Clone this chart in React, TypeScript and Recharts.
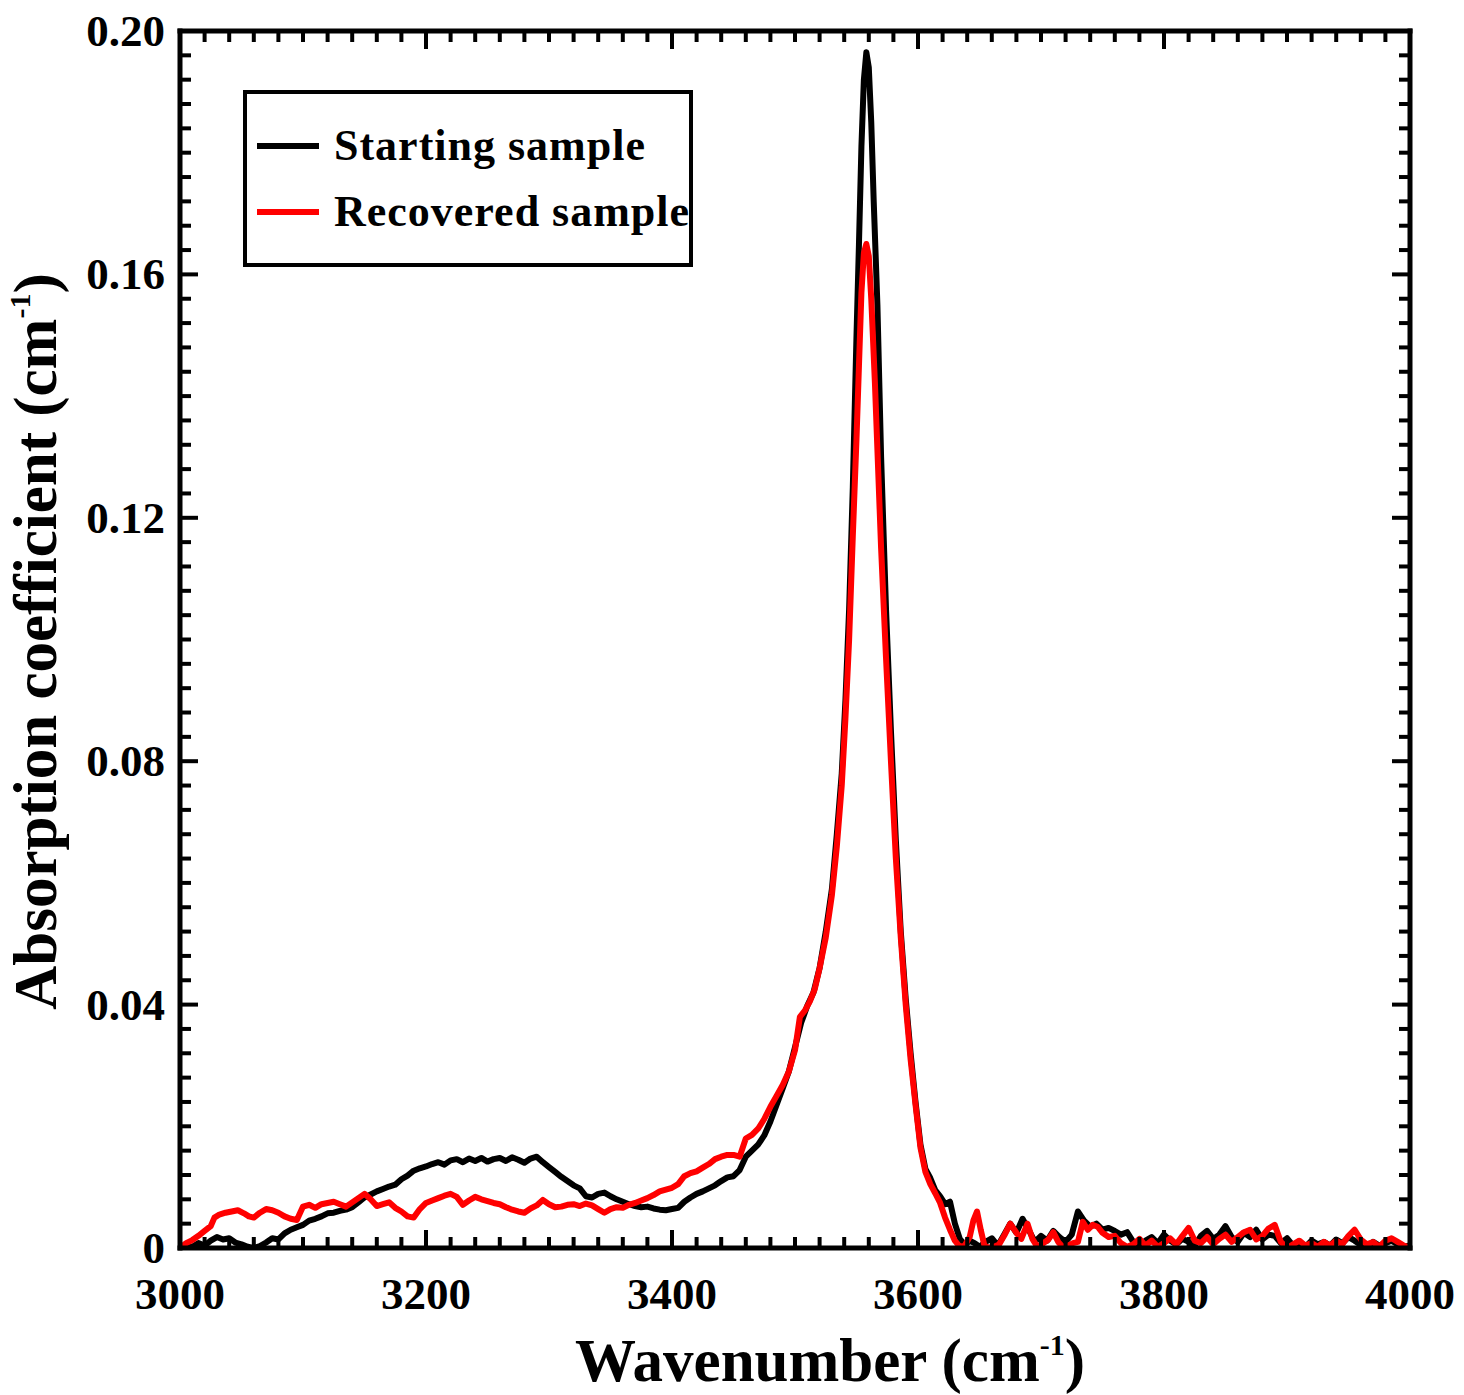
import { LineChart, Line, XAxis, YAxis, Legend } from "recharts";

const FONT = '"Liberation Serif", "Times New Roman", Times, serif';

// [wavenumber (cm-1), absorption coefficient (cm-1)]
const startingSample: [number, number][] = [
  [3000, 0], [3005, 0.0003], [3010, 0.0002], [3015, 0.0008], [3020, 0.0004], [3025, 0.0012],
  [3030, 0.0018], [3035, 0.0014], [3040, 0.0016], [3045, 0.0009], [3050, 0.0006], [3055, 0.0002],
  [3060, 0], [3065, 0.0003], [3070, 0.0009], [3075, 0.0016], [3080, 0.0014], [3085, 0.0024],
  [3090, 0.003], [3095, 0.0034], [3100, 0.0038], [3105, 0.0045], [3110, 0.0048], [3115, 0.0052],
  [3120, 0.0057], [3125, 0.0058], [3130, 0.0061], [3135, 0.0063], [3140, 0.0067], [3145, 0.0075],
  [3150, 0.0083], [3155, 0.0088], [3160, 0.0093], [3165, 0.0097], [3170, 0.0101], [3175, 0.0104],
  [3180, 0.0113], [3185, 0.0119], [3190, 0.0127], [3195, 0.0131], [3200, 0.0134], [3205, 0.0138],
  [3210, 0.0141], [3215, 0.0137], [3220, 0.0144], [3225, 0.0146], [3230, 0.0141], [3235, 0.0147],
  [3240, 0.0143], [3245, 0.0148], [3250, 0.0142], [3255, 0.0146], [3260, 0.0148], [3265, 0.0143],
  [3270, 0.0149], [3275, 0.0145], [3280, 0.014], [3285, 0.0147], [3290, 0.015], [3295, 0.0141],
  [3300, 0.0133], [3305, 0.0125], [3310, 0.0117], [3315, 0.011], [3320, 0.0103], [3325, 0.0098],
  [3330, 0.0085], [3335, 0.0083], [3340, 0.0089], [3345, 0.0091], [3350, 0.0085], [3355, 0.008],
  [3360, 0.0076], [3365, 0.0072], [3370, 0.0069], [3375, 0.0067], [3380, 0.0068], [3385, 0.0065],
  [3390, 0.0063], [3395, 0.0062], [3400, 0.0064], [3405, 0.0066], [3410, 0.0076], [3415, 0.0083],
  [3420, 0.0089], [3425, 0.0093], [3430, 0.0098], [3435, 0.0103], [3440, 0.011], [3445, 0.0116],
  [3450, 0.0118], [3455, 0.0128], [3460, 0.015], [3465, 0.016], [3470, 0.017], [3475, 0.0185],
  [3480, 0.0208], [3485, 0.0235], [3490, 0.0262], [3495, 0.029], [3500, 0.033], [3505, 0.037],
  [3510, 0.0398], [3515, 0.042], [3520, 0.046], [3525, 0.052], [3530, 0.059], [3534, 0.068],
  [3538, 0.078], [3541, 0.09], [3544, 0.105], [3547, 0.125], [3550, 0.15], [3552, 0.165],
  [3554, 0.181], [3556, 0.192], [3558, 0.1965], [3560, 0.194], [3562, 0.185], [3564, 0.172],
  [3567, 0.155], [3570, 0.13], [3574, 0.105], [3578, 0.085], [3582, 0.067], [3586, 0.052],
  [3590, 0.041], [3594, 0.032], [3598, 0.024], [3602, 0.017], [3606, 0.013], [3610, 0.0115],
  [3614, 0.0095], [3618, 0.0085], [3622, 0.0072], [3626, 0.0076], [3630, 0.004], [3634, 0.0015],
  [3638, 0.0005], [3642, 0.0012], [3646, 0.0008], [3650, 0.0002], [3655, 0.001], [3660, 0.0016],
  [3665, 0.0004], [3670, 0.0022], [3675, 0.004], [3680, 0.0025], [3685, 0.0048], [3690, 0.003],
  [3695, 0.001], [3700, 0.002], [3705, 0.0012], [3710, 0.0028], [3715, 0.0018], [3720, 0.001],
  [3725, 0.0022], [3730, 0.006], [3735, 0.0045], [3740, 0.0035], [3745, 0.004], [3750, 0.003],
  [3755, 0.0033], [3760, 0.0028], [3765, 0.0022], [3770, 0.0026], [3775, 0.001], [3780, 0.0002],
  [3785, 0.0012], [3790, 0.0018], [3795, 0.0008], [3800, 0.0022], [3805, 0.0012], [3810, 0.0006],
  [3815, 0.0015], [3820, 0.001], [3825, 0.0004], [3830, 0.002], [3835, 0.0028], [3840, 0.0015],
  [3845, 0.0022], [3850, 0.0036], [3855, 0.0018], [3860, 0.001], [3865, 0.0025], [3870, 0.0018],
  [3875, 0.003], [3880, 0.0014], [3885, 0.0022], [3890, 0.002], [3895, 0.0008], [3900, 0.0016],
  [3905, 0.0004], [3910, 0.0008], [3915, 0.0002], [3920, 0.0012], [3925, 0.0006], [3930, 0.001],
  [3935, 0.0004], [3940, 0.0014], [3945, 0.0008], [3950, 0.0018], [3955, 0.0012], [3960, 0.0005],
  [3965, 0.0001], [3970, 0.001], [3975, 0.0004], [3980, 0.0008], [3985, 0.0012], [3990, 0.0006],
  [3995, 0.0002], [4000, 0.0004],
];

const recoveredSample: [number, number][] = [
  [3000, 0], [3005, 0.0008], [3010, 0.0013], [3015, 0.002], [3020, 0.0028], [3025, 0.0036],
  [3028, 0.005], [3032, 0.0055], [3037, 0.0058], [3042, 0.006], [3047, 0.0062], [3052, 0.0057],
  [3056, 0.0052], [3060, 0.005], [3065, 0.0058], [3070, 0.0064], [3075, 0.0062], [3080, 0.0058],
  [3085, 0.0052], [3090, 0.0048], [3095, 0.0046], [3100, 0.0068], [3105, 0.0071], [3110, 0.0066],
  [3115, 0.0072], [3120, 0.0074], [3125, 0.0076], [3130, 0.0072], [3135, 0.0068], [3140, 0.0075],
  [3145, 0.0082], [3150, 0.0089], [3155, 0.008], [3160, 0.0069], [3165, 0.0072], [3170, 0.0075],
  [3175, 0.0066], [3180, 0.006], [3185, 0.0052], [3190, 0.005], [3195, 0.0064], [3200, 0.0074],
  [3205, 0.0078], [3210, 0.0082], [3215, 0.0086], [3220, 0.0089], [3225, 0.0084], [3230, 0.0071],
  [3235, 0.0078], [3240, 0.0084], [3245, 0.008], [3250, 0.0077], [3255, 0.0074], [3260, 0.0072],
  [3265, 0.0067], [3270, 0.0063], [3275, 0.006], [3280, 0.0058], [3285, 0.0065], [3290, 0.007],
  [3295, 0.0079], [3300, 0.0072], [3305, 0.0067], [3310, 0.0068], [3315, 0.0071], [3320, 0.0072],
  [3325, 0.0069], [3330, 0.0073], [3335, 0.007], [3340, 0.0064], [3345, 0.0058], [3350, 0.0064],
  [3355, 0.0067], [3360, 0.0066], [3365, 0.0071], [3370, 0.0074], [3375, 0.0078], [3380, 0.0082],
  [3385, 0.0087], [3390, 0.0093], [3395, 0.0096], [3400, 0.0099], [3405, 0.0105], [3410, 0.0118],
  [3415, 0.0123], [3420, 0.0126], [3425, 0.0132], [3430, 0.0138], [3435, 0.0146], [3440, 0.015],
  [3445, 0.0153], [3450, 0.0153], [3455, 0.015], [3460, 0.018], [3465, 0.0186], [3470, 0.0196],
  [3475, 0.0212], [3480, 0.0232], [3485, 0.025], [3490, 0.0268], [3495, 0.029], [3500, 0.0325],
  [3504, 0.038], [3508, 0.039], [3512, 0.0405], [3516, 0.0425], [3520, 0.046], [3525, 0.051],
  [3530, 0.058], [3534, 0.066], [3538, 0.076], [3541, 0.087], [3544, 0.1], [3547, 0.117],
  [3550, 0.133], [3552, 0.145], [3554, 0.157], [3556, 0.1635], [3558, 0.165], [3560, 0.163],
  [3562, 0.156], [3565, 0.142], [3570, 0.115], [3574, 0.097], [3578, 0.08], [3582, 0.064],
  [3586, 0.051], [3590, 0.04], [3594, 0.031], [3598, 0.0235], [3602, 0.0165], [3606, 0.0125],
  [3610, 0.0105], [3614, 0.009], [3618, 0.0074], [3622, 0.005], [3626, 0.003], [3630, 0.0012],
  [3634, 0.0002], [3638, 0.0004], [3642, 0.0018], [3645, 0.0045], [3648, 0.006], [3651, 0.003],
  [3654, 0.0004], [3658, 0], [3662, 0.0002], [3666, 0.0006], [3670, 0.002], [3675, 0.004],
  [3680, 0.0025], [3684, 0.0015], [3689, 0.004], [3693, 0.0015], [3697, 0.0002], [3702, 0.0008],
  [3706, 0.0014], [3710, 0.0026], [3714, 0.001], [3718, 0.0001], [3722, 0.0004], [3726, 0.0008],
  [3730, 0.001], [3734, 0.0043], [3738, 0.003], [3742, 0.0038], [3746, 0.0035], [3750, 0.0025],
  [3755, 0.0018], [3760, 0.002], [3765, 0.0008], [3770, 0.0002], [3775, 0.0006], [3780, 0.0015],
  [3785, 0.0004], [3790, 0.0012], [3795, 0.0002], [3800, 0.0008], [3805, 0.0016], [3810, 0.0006],
  [3815, 0.002], [3820, 0.0033], [3825, 0.0012], [3830, 0.0008], [3835, 0.0018], [3840, 0.0006],
  [3845, 0.0015], [3850, 0.0022], [3855, 0.001], [3860, 0.0018], [3865, 0.0026], [3870, 0.003],
  [3875, 0.0014], [3880, 0.002], [3885, 0.0032], [3890, 0.0038], [3895, 0.001], [3900, 0],
  [3905, 0.0006], [3910, 0.0012], [3915, 0.0004], [3920, 0.0008], [3925, 0.0002], [3930, 0.001],
  [3935, 0.0004], [3940, 0.0012], [3945, 0.0006], [3950, 0.002], [3955, 0.003], [3960, 0.0014],
  [3965, 0.0006], [3970, 0.001], [3975, 0.0002], [3980, 0.0012], [3985, 0.0016], [3990, 0.001],
  [3995, 0.0004], [4000, 0],
];

const seriesNames = ["Starting sample", "Recovered sample"];
const seriesColors = ["#000000", "#ff0000"];

const xMajorTicks = [3000, 3200, 3400, 3600, 3800, 4000];
const xMinorStep = 20;
const yMajorTicks = [0, 0.04, 0.08, 0.12, 0.16, 0.2];
const yMinorStep = 0.004;

const xTicks: number[] = [];
for (let v = xMajorTicks[0]; v <= xMajorTicks[xMajorTicks.length - 1]; v += xMinorStep) xTicks.push(v);
const yTicks: number[] = [];
for (let i = 0; i <= Math.round(0.2 / yMinorStep); i++) yTicks.push(+(i * yMinorStep).toFixed(3));

const toRows = (pts: [number, number][]) => pts.map(([wn, abs]) => ({ wn, abs }));

const MAJOR = 18;
const MINOR = 11;
const TICK_FS = 45;

const isXMajor = (v: number) => xMajorTicks.includes(Number(v));
const isYMajor = (v: number) => yMajorTicks.some((t) => Math.abs(t - Number(v)) < 1e-6);

function BottomTick(props: any) {
  const x = Number(props.x);
  const y = Number(props.y);
  const v = Number(props.payload.value);
  const major = isXMajor(v);
  return (
    <g>
      <path d={`M${x},${y}V${y - (major ? MAJOR : MINOR)}`} stroke="#000" strokeWidth={4} fill="none" />
      {major && (
        <text x={x} y={y + 61} textAnchor="middle" fontFamily={FONT} fontWeight="bold" fontSize={TICK_FS} fill="#000">
          {v}
        </text>
      )}
    </g>
  );
}

function TopTick(props: any) {
  const x = Number(props.x);
  const y = Number(props.y);
  const major = isXMajor(props.payload.value);
  return <path d={`M${x},${y}V${y + (major ? MAJOR : MINOR)}`} stroke="#000" strokeWidth={4} fill="none" />;
}

function LeftTick(props: any) {
  const x = Number(props.x);
  const y = Number(props.y);
  const v = Number(props.payload.value);
  const major = isYMajor(v);
  return (
    <g>
      <path d={`M${x},${y}H${x + (major ? MAJOR : MINOR)}`} stroke="#000" strokeWidth={4} fill="none" />
      {major && (
        <text x={x - 15} y={y + 15} textAnchor="end" fontFamily={FONT} fontWeight="bold" fontSize={TICK_FS} fill="#000">
          {v === 0 ? "0" : v.toFixed(2)}
        </text>
      )}
    </g>
  );
}

function RightTick(props: any) {
  const x = Number(props.x);
  const y = Number(props.y);
  const major = isYMajor(props.payload.value);
  return <path d={`M${x},${y}H${x - (major ? MAJOR : MINOR)}`} stroke="#000" strokeWidth={4} fill="none" />;
}

function XTitle({ viewBox }: any) {
  const cx = viewBox.x + viewBox.width / 2 + 35;
  return (
    <text x={cx} y={viewBox.y + 133} textAnchor="middle" fontFamily={FONT} fontWeight="bold" fontSize={61} fill="#000">
      Wavenumber (cm
      <tspan fontSize={30} dy={-26}>-1</tspan>
      <tspan dy={26}>)</tspan>
    </text>
  );
}

function YTitle({ viewBox }: any) {
  const x = viewBox.x + 56;
  const y = viewBox.y + viewBox.height / 2 + 2;
  return (
    <text x={x} y={y} transform={`rotate(-90, ${x}, ${y})`} textAnchor="middle" fontFamily={FONT} fontWeight="bold" fontSize={61} fill="#000">
      Absorption coefficient (cm
      <tspan fontSize={30} dy={-26}>-1</tspan>
      <tspan dy={26}>)</tspan>
    </text>
  );
}

function LegendBox() {
  return (
    <svg width={450} height={177}>
      <rect x={2} y={2} width={446} height={173} fill="#fff" stroke="#000" strokeWidth={4} />
      {seriesNames.map((name, i) => (
        <g key={name}>
          <line x1={14} x2={76} y1={56 + i * 66} y2={56 + i * 66} stroke={seriesColors[i]} strokeWidth={6} />
          <text x={91} y={70 + i * 66} fontFamily={FONT} fontWeight="bold" fontSize={44} letterSpacing={1} fill="#000">
            {name}
          </text>
        </g>
      ))}
    </svg>
  );
}

const axisLine = { stroke: "#000", strokeWidth: 5, strokeLinecap: "square" as const };

export default function App() {
  return (
    <div style={{ position: "absolute", left: 0, top: 0, background: "#fff" }}>
      <LineChart width={1464} height={1395} margin={{ top: 30, right: 53, bottom: 0, left: 0 }}>
        <XAxis
          xAxisId="bottom"
          dataKey="wn"
          type="number"
          domain={[3000, 4000]}
          ticks={xTicks}
          interval={0}
          height={147}
          tickSize={0}
          tickMargin={0}
          tickLine={false}
          axisLine={axisLine}
          tick={<BottomTick />}
          label={<XTitle />}
          allowDataOverflow
        />
        <XAxis
          xAxisId="top"
          dataKey="wn"
          orientation="top"
          type="number"
          domain={[3000, 4000]}
          ticks={xTicks}
          interval={0}
          height={1}
          tickSize={0}
          tickMargin={0}
          tickLine={false}
          axisLine={axisLine}
          tick={<TopTick />}
          allowDataOverflow
        />
        <YAxis
          yAxisId="left"
          type="number"
          domain={[0, 0.2]}
          ticks={yTicks}
          interval={0}
          width={180}
          tickSize={0}
          tickMargin={0}
          tickLine={false}
          axisLine={axisLine}
          tick={<LeftTick />}
          label={<YTitle />}
          allowDataOverflow
        />
        <YAxis
          yAxisId="right"
          orientation="right"
          type="number"
          domain={[0, 0.2]}
          ticks={yTicks}
          interval={0}
          width={1}
          tickSize={0}
          tickMargin={0}
          tickLine={false}
          axisLine={axisLine}
          tick={<RightTick />}
          allowDataOverflow
        />
        <Legend
          layout="vertical"
          align="center"
          verticalAlign="middle"
          content={() => <LegendBox />}
          wrapperStyle={{ left: 243, top: 90, width: 450, height: 177 }}
        />
        <Line
          xAxisId="bottom"
          yAxisId="left"
          data={toRows(startingSample)}
          dataKey="abs"
          name={seriesNames[0]}
          type="linear"
          stroke={seriesColors[0]}
          strokeWidth={6}
          strokeLinejoin="round"
          dot={false}
          isAnimationActive={false}
        />
        <Line
          xAxisId="top"
          yAxisId="right"
          data={toRows(recoveredSample)}
          dataKey="abs"
          name={seriesNames[1]}
          type="linear"
          stroke={seriesColors[1]}
          strokeWidth={6}
          strokeLinejoin="round"
          dot={false}
          isAnimationActive={false}
        />
      </LineChart>
    </div>
  );
}
